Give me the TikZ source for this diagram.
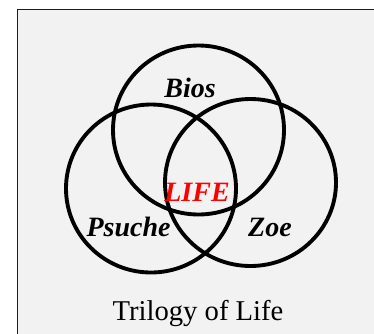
\documentclass[tikz,border=0pt]{standalone}
\usepackage{fontspec}
\setmainfont{Liberation Serif}
\begin{document}
\begin{tikzpicture}[x=0.75pt,y=-0.75pt,
  ring/.style={line width=2.9pt,draw=black},
  lab/.style={font=\fontsize{21}{25}\selectfont\bfseries\itshape,anchor=base,inner sep=0pt},
  titletext/.style={font=\fontsize{21.5}{25}\selectfont,anchor=base,inner sep=0pt}]
\useasboundingbox (0,0) rectangle (374,333);
\fill[white] (0,0) rectangle (374,333);
\draw[fill={rgb,255:red,242;green,242;blue,242},draw={rgb,255:red,30;green,30;blue,30},line width=1.1pt] (17.5,9.5) rectangle (380,340);
\draw[ring] (198.5,130) ellipse [x radius=85.5,y radius=84.5];
\draw[ring] (151,188.5) ellipse [x radius=85,y radius=84];
\draw[ring] (250.5,182.5) ellipse [x radius=85.5,y radius=83.5];
\node[lab] (bios) at (190,97) {Bios};
\node[lab,text=red] (life) at (197,201) {LIFE};
\node[lab] (psuche) at (128.5,236) {Psuche};
\node[lab] (zoe) at (270,236) {Zoe};
\node[titletext] (title) at (198,320) {Trilogy of Life};
\end{tikzpicture}
\end{document}
